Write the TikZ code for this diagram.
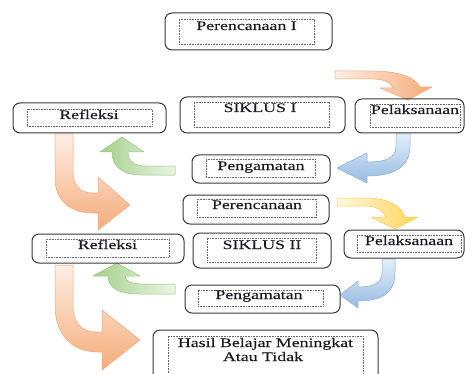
\documentclass[tikz,border=0pt]{standalone}
\usepackage{fontspec}
\setmainfont{Liberation Serif}[FakeStretch=1.37,FakeBold=0.25]
\usetikzlibrary{fit}
\definecolor{orL}{RGB}{253,238,228}
\definecolor{orD}{RGB}{245,172,122}
\definecolor{orE}{RGB}{242,168,120}
\definecolor{yeL}{RGB}{255,249,222}
\definecolor{yeD}{RGB}{255,212,88}
\definecolor{yeE}{RGB}{246,205,90}
\definecolor{blL}{RGB}{228,238,249}
\definecolor{blD}{RGB}{150,188,225}
\definecolor{blE}{RGB}{135,175,215}
\definecolor{grL}{RGB}{234,245,227}
\definecolor{grD}{RGB}{165,208,140}
\definecolor{grE}{RGB}{150,198,122}
\definecolor{txt}{RGB}{25,25,35}
\tikzset{
  outerbox/.style={draw=black!78, line width=1pt, rounded corners=7pt, inner sep=0pt},
  innerbox/.style={draw=black!60, line width=0.6pt, dash pattern=on 0.7pt off 0.9pt, inner sep=0pt},
  lbl/.style={inner sep=0pt, anchor=base, text=txt, font=\fontsize{13}{15}\selectfont},
  arr/.style={line width=0.5pt, line join=round},
}
\begin{document}
\begin{tikzpicture}[x=1pt,y=-1pt]
\useasboundingbox (0,0) rectangle (465,374);
\clip (0,0) rectangle (465,374);

% arrows
\draw[arr, draw=orE, top color=orL, bottom color=orD]
  (55,134) -- (55,178) .. controls (55,200) and (70,213) .. (92,213) -- (98,213) -- (98,230) -- (130,205) -- (98,177) -- (98,193) -- (93,193) .. controls (80,193) and (73,185) .. (73,172) -- (73,134) -- cycle;
\draw[arr, draw=orE, top color=orL, bottom color=orD]
  (55,265) -- (55,305) .. controls (55,335) and (72,352) .. (98,352) -- (102,352) -- (102,370) -- (140,340) -- (102,310) -- (102,332) -- (96,332) .. controls (81,332) and (73,322) .. (73,305) -- (73,265) -- cycle;
\draw[arr, draw=orE, left color=orL, right color=orD]
  (335,71) -- (372,71) .. controls (400,71) and (416,78) .. (420,87) -- (432,87) -- (408,100) -- (380,88) -- (394,88) .. controls (390,82) and (383,79) .. (372,79) -- (335,79) -- cycle;
\draw[arr, draw=yeE, left color=yeL, right color=yeD]
  (337,198) -- (366,198) .. controls (390,198) and (402,207) .. (405,217) -- (418,217) -- (395,229) -- (371,217) -- (386,217) .. controls (382,210) and (376,206) .. (366,206) -- (337,206) -- cycle;
\draw[arr, draw=blE, top color=blL, bottom color=blD]
  (396,134) -- (396,146) .. controls (396,158) and (386,162) .. (367,162) -- (367,153) -- (337,168) -- (367,183) -- (367,176) .. controls (397,176) and (410,165) .. (410,146) -- (410,134) -- cycle;
\draw[arr, draw=blE, top color=blL, bottom color=blD]
  (382,259) -- (382,272) .. controls (382,283) and (374,287) .. (358,287) -- (358,281) -- (340,295) -- (358,308) -- (358,301) .. controls (386,301) and (395,290) .. (395,272) -- (395,259) -- cycle;
\draw[arr, draw=grE, left color=grD, right color=grL]
  (175,166) -- (145,166) .. controls (133,166) and (128,160) .. (128,152) -- (144,152) -- (122,137) -- (100,152) -- (112,152) .. controls (112,167) and (123,175) .. (141,175) -- (175,175) -- cycle;
\draw[arr, draw=grE, left color=grD, right color=grL]
  (175,284) -- (143,284) .. controls (131,284) and (125,281) .. (125,276) -- (140,276) -- (117,263) -- (93,276) -- (108,276) .. controls (108,288) and (119,294) .. (139,294) -- (175,294) -- cycle;

% boxes
\node[outerbox, fit={(165,13) (332,50)}] (p1) {};
\node[innerbox, fit={(179,19) (314,44)}] (p1i) {};
\node[lbl] (p1t) at (246.5,30) {Perencanaan I};

\node[outerbox, fit={(13,103) (166,133)}] (r1) {};
\node[innerbox, fit={(27,109) (152,126)}] (r1i) {};
\node[lbl] (r1t) at (89,119) {Refleksi};

\node[outerbox, fit={(180,97) (345,133)}] (s1) {};
\node[innerbox, fit={(194,102) (329,127)}] (s1i) {};
\node[lbl] (s1t) at (260,112) {SIKLUS I};

\node[outerbox, fit={(355,99) (464,133)}] (l1) {};
\node[innerbox, fit={(370,104) (460,127)}] (l1i) {};
\node[lbl] (l1t) at (415,114) {Pelaksanaan};

\node[outerbox, fit={(192,155) (330,183)}] (g1) {};
\node[innerbox, fit={(206,159) (315,177)}] (g1i) {};
\node[lbl] (g1t) at (261,170) {Pengamatan};

\node[outerbox, fit={(183,195) (329,224)}] (p2) {};
\node[innerbox, fit={(197,199) (316,217)}] (p2i) {};
\node[lbl] (p2t) at (257,209) {Perencanaan};

\node[outerbox, fit={(32,234) (184,263)}] (r2) {};
\node[innerbox, fit={(46,239) (169,257)}] (r2i) {};
\node[lbl] (r2t) at (107.5,249) {Refleksi};

\node[outerbox, fit={(193,233) (331,268)}] (s2) {};
\node[innerbox, fit={(207,238) (316,262)}] (s2i) {};
\node[lbl] (s2t) at (262,249) {SIKLUS II};

\node[outerbox, fit={(344,230) (464,258)}] (l2) {};
\node[innerbox, fit={(357,235) (461,252)}] (l2i) {};
\node[lbl] (l2t) at (409,245) {Pelaksanaan};

\node[outerbox, fit={(185,285) (340,313)}] (g2) {};
\node[innerbox, fit={(198,290) (323,306)}] (g2i) {};
\node[lbl] (g2t) at (259,299) {Pengamatan};

\node[outerbox, fit={(153,330) (378,392)}] (h) {};
\node[innerbox, fit={(168,336) (363,388)}] (hi) {};
\node[lbl] (ht1) at (265.5,347) {Hasil Belajar Meningkat};
\node[lbl] (ht2) at (263,361) {Atau Tidak};
\end{tikzpicture}
\end{document}
